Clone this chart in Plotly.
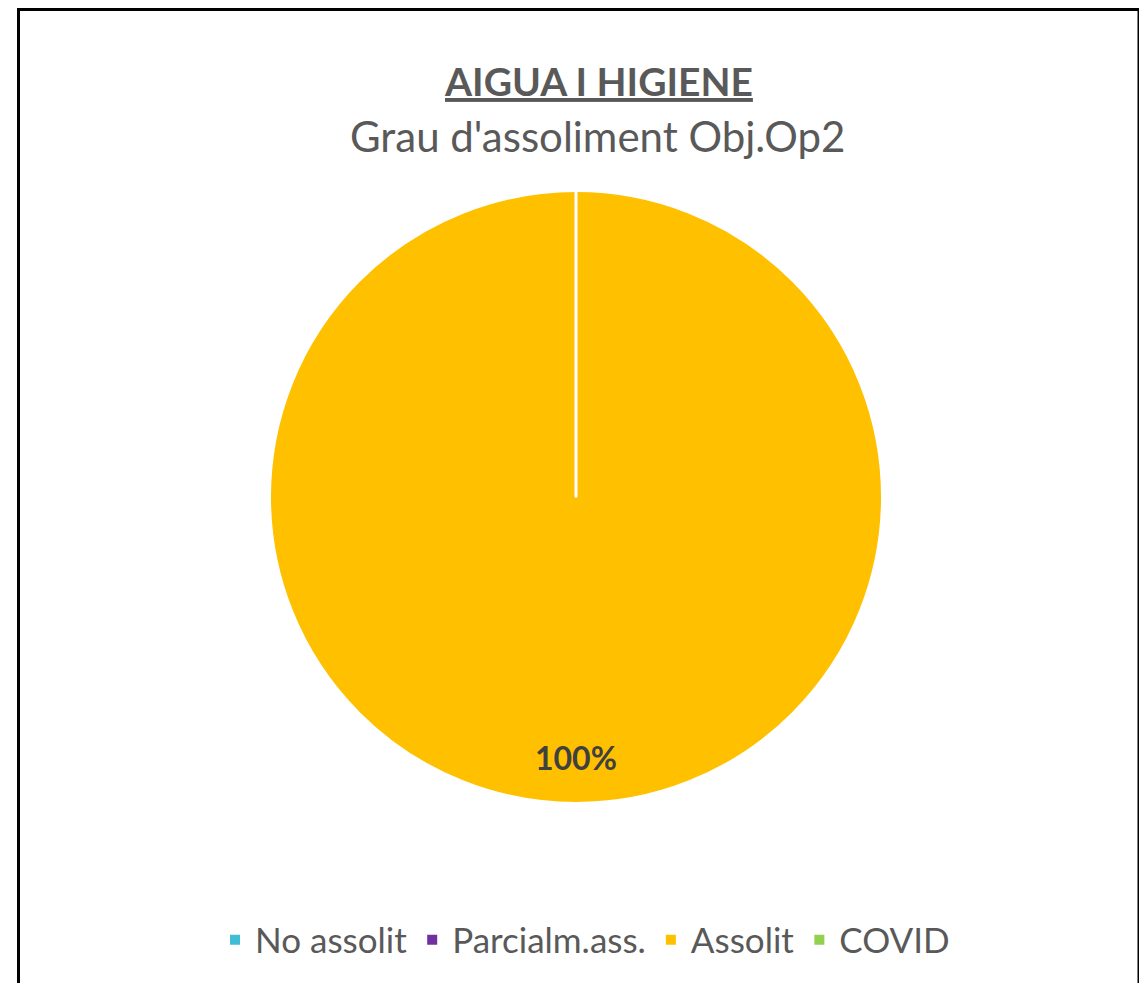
import plotly.graph_objects as go

# Data
categories = ["No assolit", "Parcialm.ass.", "Assolit", "COVID"]
values = [0, 0, 1, 0]
colors = ["#3FBCD6", "#7030A0", "#FFC000", "#92D050"]

title = "AIGUA I HIGIENE"
subtitle = "Grau d'assoliment Obj.Op2"

W, H = 1147, 983
off = 8  # page body margin
font = "Lato"
grey = "#595959"


def px(x):
    return (x - off) / W


def py(y):
    return 1 - (y - off) / H


# pie placement (pixels in the screenshot)
cx, cy, r = 576, 497, 306
dom_x = [px(cx - r), px(cx + r)]
dom_y = [py(cy + r), py(cy - r)]

fig = go.Figure(go.Pie(
    labels=categories, values=values,
    marker=dict(colors=colors, line=dict(color="white", width=2)),
    sort=False, direction="clockwise", rotation=0,
    textinfo="none", hoverinfo="label+percent",
    domain=dict(x=dom_x, y=dom_y),
))

# percentage label for the largest slice (Excel puts it near the rim)
total = sum(values)
main = values.index(max(values))
fig.add_annotation(
    x=px(cx), y=py(cy + 0.85 * r), xref="paper", yref="paper",
    xanchor="center", yanchor="middle",
    text="<b>%d%%</b>" % round(100 * values[main] / total), showarrow=False,
    font=dict(family=font, size=32, color="#404040"),
)

# slice boundary at the top (zero-size slices)
fig.add_shape(type="line", xref="paper", yref="paper",
              x0=px(cx), x1=px(cx), y0=py(cy), y1=py(cy - r),
              line=dict(color="white", width=3))

# titles
fig.add_annotation(x=px(598), y=py(81), xref="paper", yref="paper",
                   xanchor="center", yanchor="middle",
                   text="<b>" + title + "</b>", showarrow=False,
                   font=dict(family=font, size=39, color=grey, lineposition="under"))
fig.add_annotation(x=px(597), y=py(136), xref="paper", yref="paper",
                   xanchor="center", yanchor="middle",
                   text=subtitle, showarrow=False,
                   font=dict(family=font, size=42, color=grey))

# chart frame
fig.add_shape(type="rect", xref="paper", yref="paper",
              x0=px(18.5), x1=px(1139), y0=-0.05, y1=py(9.5),
              line=dict(color="black", width=3))

fig.update_layout(
    width=W, height=H,
    margin=dict(l=0, r=0, t=0, b=0),
    paper_bgcolor="white", plot_bgcolor="white",
    showlegend=True,
    legend=dict(orientation="h", x=px(585), xanchor="center",
                y=py(940), yanchor="middle",
                font=dict(family=font, size=35, color=grey),
                itemwidth=30, itemsizing="constant"),
)

fig.write_html("out.html")
